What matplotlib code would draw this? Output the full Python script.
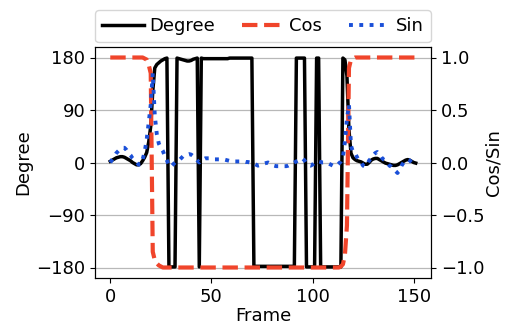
import numpy as np
import matplotlib
matplotlib.use('Agg')
import matplotlib.pyplot as plt

plt.rcParams['font.size'] = 13

# values, one per frame (0..151)
degree = ([2, 4, 6, 8, 9, 10, 10, 9, 7, 5, 3,
           0, -2, -4, -4, -2, 3,
           9, 17, 35, 62, 122, 162, 168, 171, 174, 176, 178, 179]
          + [-179] * 4
          + [179, 178, 177, 176, 175, 174, 174, 175, 177, 178, 179]
          + [-179]
          + [179] + [178] * 13 + [179] * 12
          + [-178] * 21
          + [179] * 5
          + [-179] * 5
          + [179] * 2
          + [-179] * 11
          + [179]
          + [176, 148, 55, 16, 8, 5, 3, 2, 1, -1,
             -3, -3, 0, 4, 6, 7, 7, 5, 3, 1,
             -1, -2, -3, -4, -5, -5, -4, -2, 0, 2,
             4, 5, 4, 2, 0, -1])

cos_vals = ([1.0] * 17
            + [0.99, 0.98, 0.93, 0.85, -0.85, -0.93, -0.96, -0.98, -0.99]
            + [-1.0] * 88
            + [-0.99, -0.97, -0.88, -0.6, 0.9, 0.98, 0.99]
            + [1.0] * 31)

sin_vals = ([0.0, 0.03, 0.06, 0.09, 0.11, 0.13, 0.14, 0.14, 0.12, 0.09, 0.07,
             0.04, 0.02, 0.0, -0.02, -0.02, 0.03,
             0.1, 0.22, 0.38, 0.55, 0.85, 0.45, 0.27, 0.18, 0.14, 0.11,
             0.06, 0.02, -0.03, -0.04, -0.02, 0.0,
             0.01, 0.02, 0.04, 0.06, 0.07, 0.075, 0.08, 0.075, 0.06, 0.04,
             0.02, 0.0,
             0.02, 0.03, 0.04, 0.04, 0.04, 0.035, 0.03, 0.03, 0.03, 0.03,
             0.03, 0.03, 0.025, 0.02, 0.015, 0.01, 0.01, 0.01, 0.01, 0.01,
             0.01, 0.01, 0.005, 0.005, 0.0, 0.0,
             -0.01, -0.02, -0.03, -0.025, -0.02, -0.01, -0.005, 0.0, -0.01,
             -0.02, -0.03, -0.035, -0.035, -0.035, -0.035, -0.035, -0.035,
             -0.03, -0.02, -0.01, 0.0,
             0.01, 0.02, 0.03, 0.04, 0.02, -0.01, -0.025, -0.03, -0.02, 0.0,
             0.01, 0.01, 0.005, 0.0, 0.0, 0.0, -0.01, -0.02, -0.03, -0.035,
             -0.03, -0.01, 0.01,
             0.05, 0.2, 0.42, 0.55, 0.16, 0.1, 0.09, 0.05, 0.02, 0.0,
             -0.03, -0.04, -0.02, 0.02, 0.04, 0.07, 0.09, 0.1, 0.08, 0.05,
             0.03, 0.02, 0.0, -0.03, -0.04, -0.06, -0.08, -0.1, -0.07, -0.03,
             0.0, 0.02, 0.03, 0.02, 0.0, -0.02, -0.02])

frames = np.arange(len(degree))

deg_ticks = [-180, -90, 0, 90, 180]
cs_ticks = [-1.0, -0.5, 0.0, 0.5, 1.0]


def main():
    fig = plt.figure(figsize=(5.07, 3.25), dpi=100)
    ax = fig.add_axes([95 / 507, 47 / 325, 336 / 507, 231 / 325])

    l1, = ax.plot(frames, degree, color='black', linewidth=2.5, label='Degree')
    ax.set_yticks(deg_ticks)
    ax.set_ylim(-198, 198)
    ax.set_xticks([0, 50, 100, 150])
    ax.set_xlabel('Frame', labelpad=1)
    ax.set_ylabel('Degree', labelpad=2.5)
    ax.grid(True, axis='y', color='#b8b8b8', linewidth=0.9)

    ax2 = ax.twinx()
    l2, = ax2.plot(frames, cos_vals, color='#f0452b', linewidth=3,
                   linestyle='--', label='Cos')
    l3, = ax2.plot(frames, sin_vals, color='#1a4fd8', linewidth=2.8,
                   linestyle=':', label='Sin')
    ax2.set_ylim(-1.1, 1.1)
    ax2.set_yticks(cs_ticks)
    ax2.set_ylabel('Cos/Sin', labelpad=0)

    ax.legend(handles=[l1, l2, l3], loc='lower left',
              bbox_to_anchor=(0, 1.02, 1, 0.1), mode='expand', ncol=3,
              borderaxespad=0, handlelength=2.3, handletextpad=0.3)

    plt.savefig('out.png', dpi=100)


if __name__ == "__main__":
    main()
